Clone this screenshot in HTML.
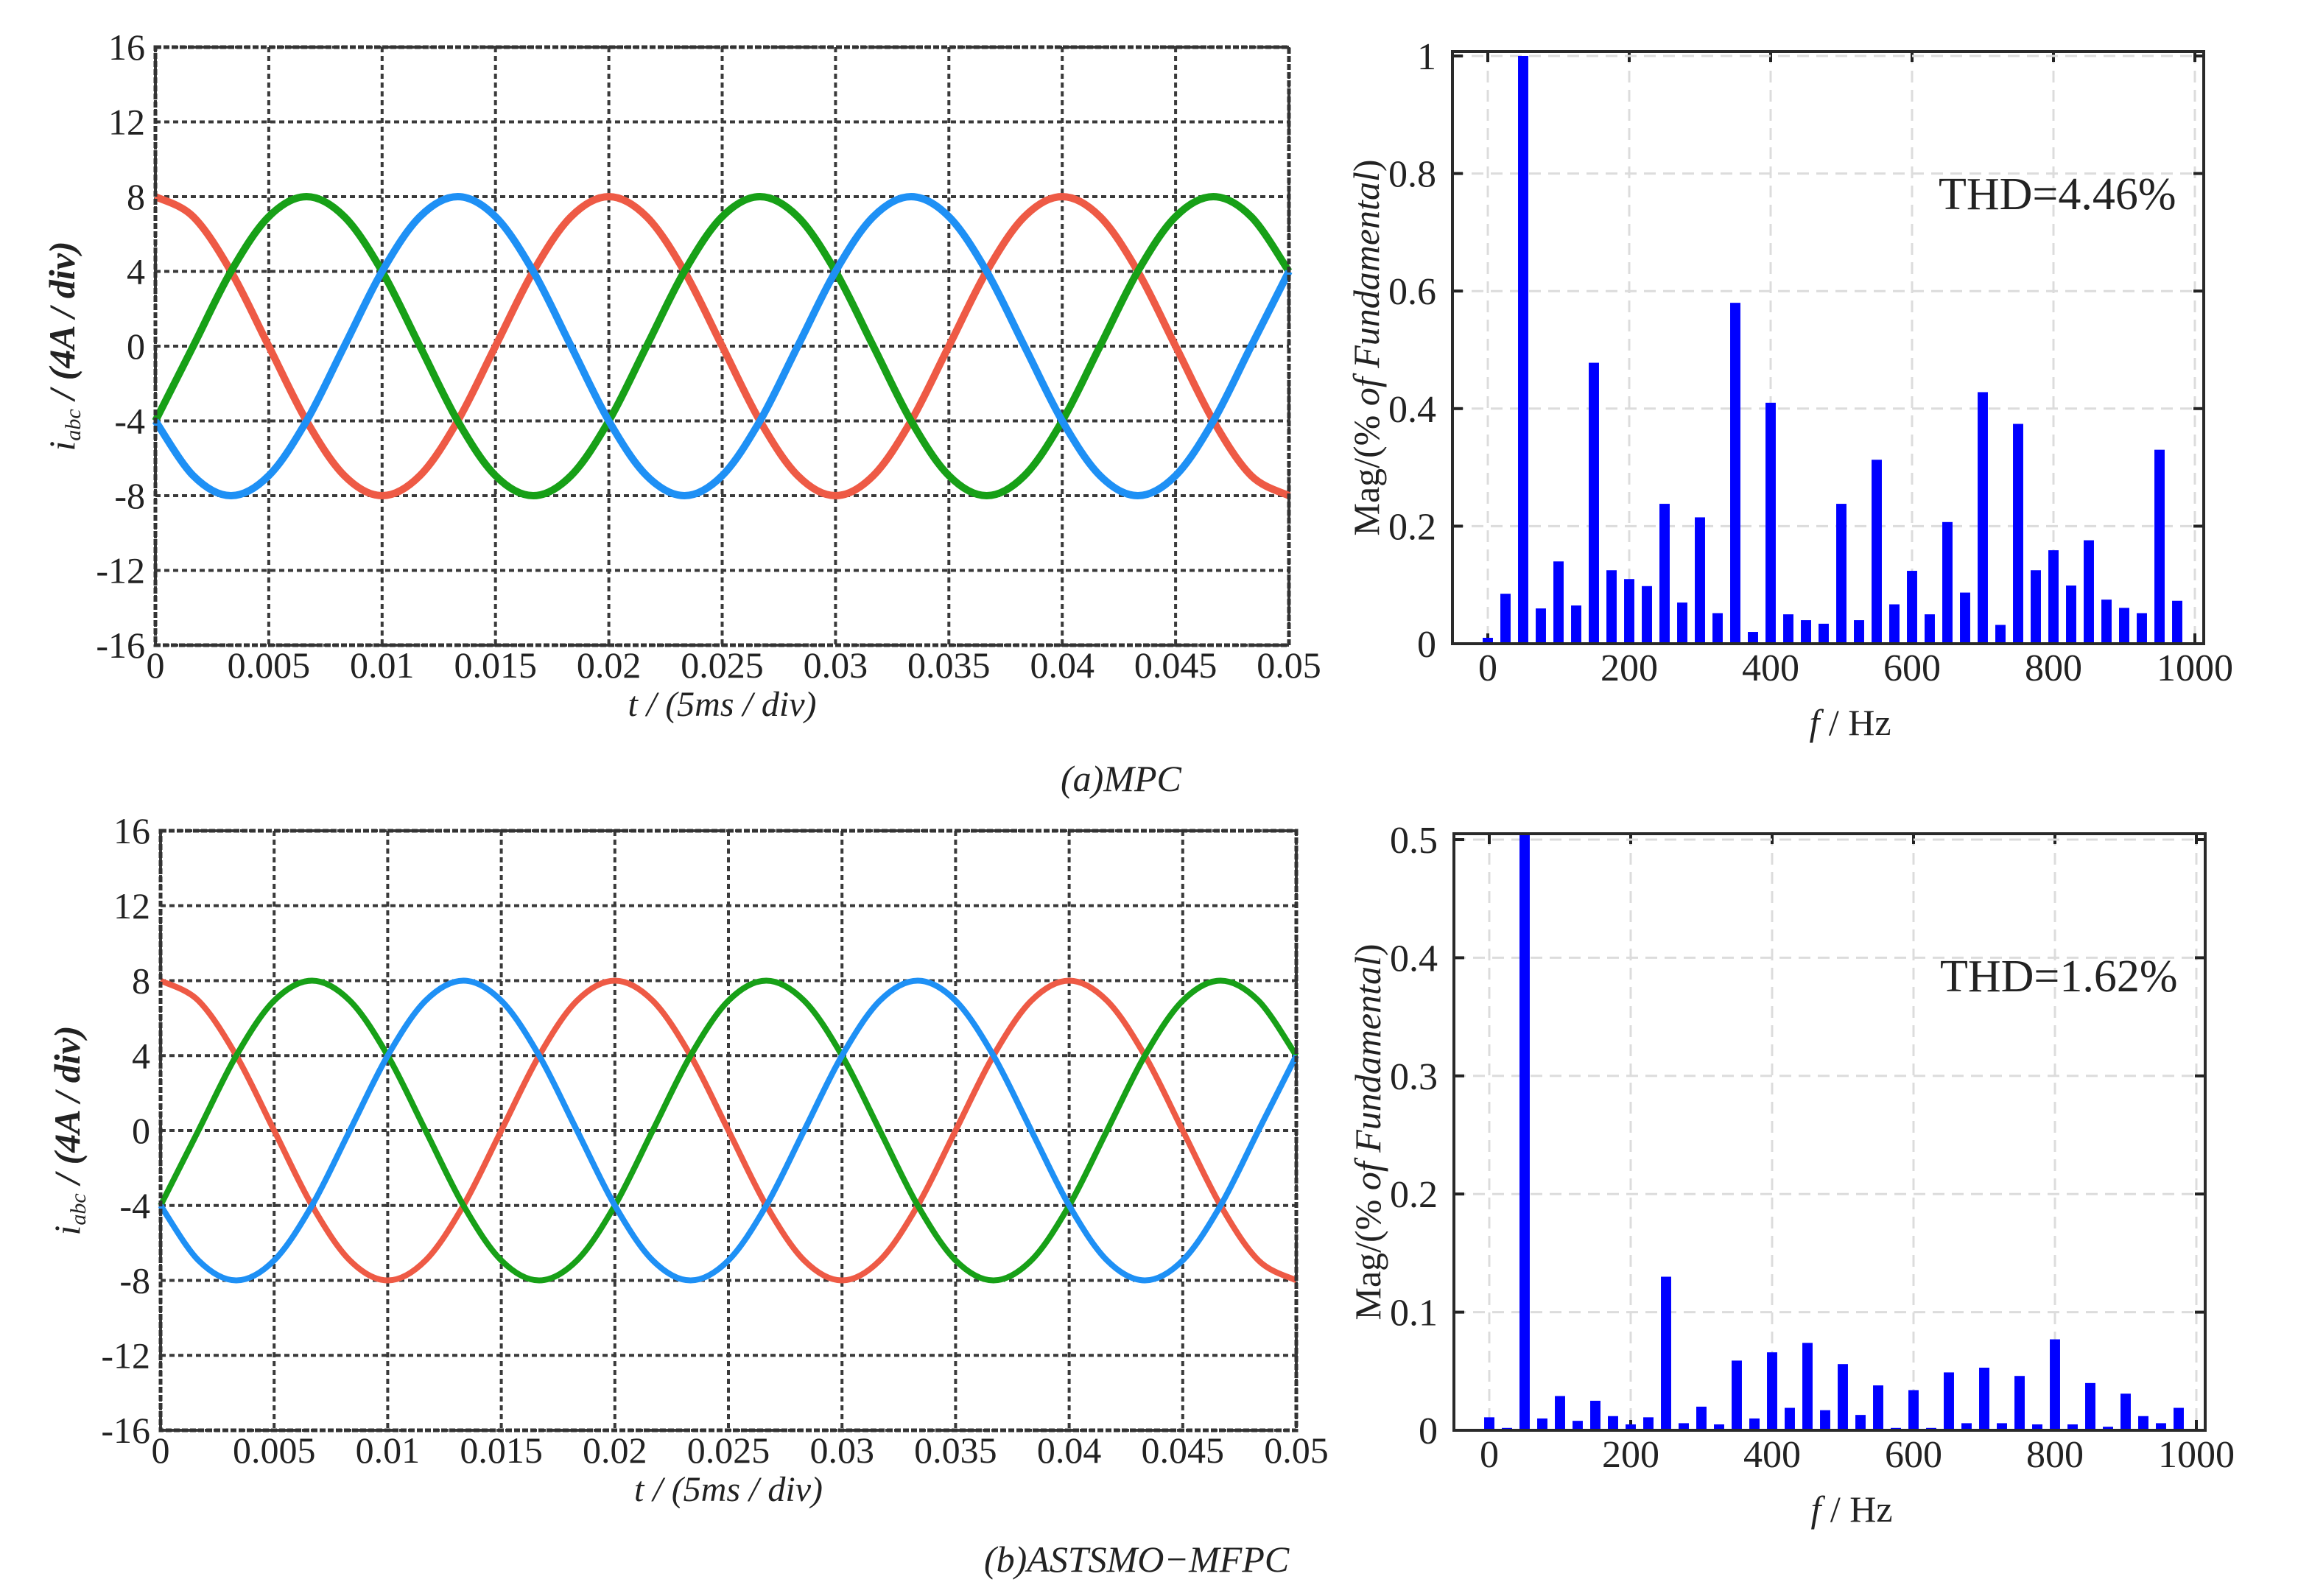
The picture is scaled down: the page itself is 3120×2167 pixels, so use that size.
<!DOCTYPE html>
<html><head><meta charset="utf-8">
<style>
html,body{margin:0;padding:0;background:#fff;}
svg{display:block;}
text{font-family:"Liberation Serif",serif;fill:#222;}
</style></head>
<body>
<svg id="fig" width="3120" height="2167" viewBox="0 0 3120 2167" xmlns="http://www.w3.org/2000/svg"></svg>
<script>
// ---- waveform data (sampled every 1/600 s, 0..0.05 s) ----
const waveT0 = 0, waveT1 = 0.05;
const phaseA = [8,6.93,4,0,-4,-6.93,-8,-6.93,-4,0,4,6.93,8,6.93,4,0,-4,-6.93,-8,-6.93,-4,0,4,6.93,8,6.93,4,0,-4,-6.93,-8];
const phaseB = [-4,0,4,6.93,8,6.93,4,0,-4,-6.93,-8,-6.93,-4,0,4,6.93,8,6.93,4,0,-4,-6.93,-8,-6.93,-4,0,4,6.93,8,6.93,4];
const phaseC = [-4,-6.93,-8,-6.93,-4,0,4,6.93,8,6.93,4,0,-4,-6.93,-8,-6.93,-4,0,4,6.93,8,6.93,4,0,-4,-6.93,-8,-6.93,-4,0,4];
const waveYTicks = [16,12,8,4,0,-4,-8,-12,-16];
const waveXTicks = ["0","0.005","0.01","0.015","0.02","0.025","0.03","0.035","0.04","0.045","0.05"];
// ---- FFT data ----
const freqs = [0,25,50,75,100,125,150,175,200,225,250,275,300,325,350,375,400,425,450,475,500,525,550,575,600,625,650,675,700,725,750,775,800,825,850,875,900,925,950,975];
const magMPC = [0.01,0.085,1.0,0.06,0.14,0.065,0.478,0.125,0.11,0.098,0.238,0.07,0.215,0.052,0.58,0.02,0.41,0.05,0.04,0.034,0.238,0.04,0.313,0.067,0.124,0.05,0.207,0.087,0.428,0.032,0.374,0.125,0.159,0.099,0.176,0.075,0.061,0.052,0.33,0.073];
const magProp = [0.011,0.002,1.0,0.01,0.029,0.008,0.025,0.012,0.005,0.011,0.13,0.006,0.02,0.005,0.059,0.01,0.066,0.019,0.074,0.017,0.056,0.013,0.038,0.002,0.034,0.002,0.049,0.006,0.053,0.006,0.046,0.005,0.077,0.005,0.04,0.003,0.031,0.012,0.006,0.019];
const fftXTicks = [0,200,400,600,800,1000];
const fftYTicksA = ["0","0.2","0.4","0.6","0.8","1"];
const fftYValsA = [0,0.2,0.4,0.6,0.8,1];
const fftYTicksB = ["0","0.1","0.2","0.3","0.4","0.5"];
const fftYValsB = [0,0.1,0.2,0.3,0.4,0.5];

const NS="http://www.w3.org/2000/svg";
const svg=document.getElementById('fig');
function mk(tag,attrs,parent){const e=document.createElementNS(NS,tag);for(const k in attrs)e.setAttribute(k,attrs[k]);(parent||svg).appendChild(e);return e;}

function smoothPath(pts){
  let d="M"+pts[0][0]+","+pts[0][1];
  for(let i=0;i<pts.length-1;i++){
    const p0=pts[Math.max(0,i-1)],p1=pts[i],p2=pts[i+1],p3=pts[Math.min(pts.length-1,i+2)];
    const c1x=p1[0]+(p2[0]-p0[0])/6,c1y=p1[1]+(p2[1]-p0[1])/6;
    const c2x=p2[0]-(p3[0]-p1[0])/6,c2y=p2[1]-(p3[1]-p1[1])/6;
    d+=" C"+c1x.toFixed(1)+","+c1y.toFixed(1)+" "+c2x.toFixed(1)+","+c2y.toFixed(1)+" "+p2[0].toFixed(1)+","+p2[1].toFixed(1);
  }
  return d;
}

function wavePlot(L,T,R,B,sw,tag){
  const g=mk('g',{});
  
  
  const xs=t=>L+(t-waveT0)/(waveT1-waveT0)*(R-L);
  const ys=v=>T+(16-v)/32*(B-T);
  waveXTicks.forEach((lab,i)=>{
    const x=xs(parseFloat(lab));
    const l=mk('line',{x1:x,y1:T,x2:x,y2:B,stroke:'#3a3a3a','stroke-width':4,'stroke-dasharray':'7,5'},g);
    
    
    const t=mk('text',{x:x,y:B+44,'font-size':50,'text-anchor':'middle'},g);
    t.textContent=lab;
    
    
  });
  waveYTicks.forEach(v=>{
    const y=ys(v);
    const l=mk('line',{x1:L,y1:y,x2:R,y2:y,stroke:'#3a3a3a','stroke-width':4,'stroke-dasharray':'7,5'},g);
    
    
    const t=mk('text',{x:L-14,y:y+17,'font-size':50,'text-anchor':'end'},g);
    t.textContent=String(v);
    
    
  });
  const series=[[phaseA,'#EE5A45','phase-a'],[phaseB,'#17A017','phase-b'],[phaseC,'#1E90F5','phase-c']];
  series.forEach(([arr,col,nm])=>{
    const n=arr.length;
    const pts=arr.map((v,i)=>[xs(waveT0+i*(waveT1-waveT0)/(n-1)),ys(v)]);
    const p=mk('path',{d:smoothPath(pts),fill:'none',stroke:col,'stroke-width':sw,'stroke-linejoin':'round'},g);
    
    
  });
  const fr=mk('rect',{x:L,y:T,width:R-L,height:B-T,fill:'none',stroke:'#333','stroke-width':5,'stroke-dasharray':'8,3'},g);
  
  
  const xt=mk('text',{x:(L+R)/2,y:B+96,'font-size':48,'text-anchor':'middle','font-style':'italic'},g);
  xt.textContent='t / (5ms / div)';
  
  
  const cy=(T+B)/2;
  const yt=mk('text',{x:0,y:0,'font-size':50,'text-anchor':'middle','font-style':'italic',transform:'translate('+(L-110)+','+cy+') rotate(-90)'},g);
  yt.innerHTML='i<tspan font-size="30" dy="8">abc</tspan><tspan dy="-8" font-weight="bold"> / (4A / div)</tspan>';
  
  
}

function fftPlot(L,T,R,B,mags,yMax,yVals,yLabs,thd,tag){
  const g=mk('g',{});
  
  
  const xMin=-50,xMax=1012.5;
  const xs=f=>L+(f-xMin)/(xMax-xMin)*(R-L);
  const ys=v=>B-v/yMax*(B-T);
  fftXTicks.forEach(f=>{
    const x=xs(f);
    const l=mk('line',{x1:x,y1:T,x2:x,y2:B,stroke:'#dcdcdc','stroke-width':3,'stroke-dasharray':'16,10'},g);
    
    
    mk('line',{x1:x,y1:B,x2:x,y2:B-14,stroke:'#222','stroke-width':4},g);
    mk('line',{x1:x,y1:T,x2:x,y2:T+14,stroke:'#222','stroke-width':4},g);
    const t=mk('text',{x:x,y:B+50,'font-size':52,'text-anchor':'middle'},g);
    t.textContent=String(f);
    
    
  });
  yVals.forEach((v,i)=>{
    const y=ys(v);
    if(v>0){
      const l=mk('line',{x1:L,y1:y,x2:R,y2:y,stroke:'#dcdcdc','stroke-width':3,'stroke-dasharray':'16,10'},g);
      
      
    }
    mk('line',{x1:L,y1:y,x2:L+14,y2:y,stroke:'#222','stroke-width':4},g);
    mk('line',{x1:R,y1:y,x2:R-14,y2:y,stroke:'#222','stroke-width':4},g);
    const t=mk('text',{x:L-22,y:y+18,'font-size':52,'text-anchor':'end'},g);
    t.textContent=yLabs[i];
    
    
  });
  const bw=14.5/(xMax-xMin)*(R-L);
  freqs.forEach((f,i)=>{
    const v=Math.min(mags[i],yMax);
    const y=ys(v);
    const r=mk('rect',{x:xs(f)-bw/2,y:y,width:bw,height:B-y,fill:'#0000FF'},g);
    
    
  });
  const fr=mk('rect',{x:L,y:T,width:R-L,height:B-T,fill:'none',stroke:'#2a2a2a','stroke-width':4},g);
  
  
  const th=mk('text',{x:L+660,y:T+214,'font-size':62},g);
  th.textContent=thd;
  
  
  const xt=mk('text',{x:(L+R)/2+30,y:B+124,'font-size':50,'text-anchor':'middle'},g);
  xt.innerHTML='<tspan font-style="italic">f</tspan> / Hz';
  
  
  const yt=mk('text',{x:0,y:0,'font-size':50,'text-anchor':'middle',transform:'translate('+(L-100)+','+((T+B)/2)+') rotate(-90)'},g);
  yt.innerHTML='Mag/(% <tspan font-style="italic">of  Fundamental</tspan>)';
  
  
}

wavePlot(211,64,1750,876,10,'mpc');
wavePlot(218,1128,1760,1942,8,'proposed');
fftPlot(1972,70,2992,874,magMPC,1.0075,fftYValsA,fftYTicksA,'THD=4.46%','mpc');
fftPlot(1974,1132,2994,1942,magProp,0.505,fftYValsB,fftYTicksB,'THD=1.62%','proposed');

const c1=mk('text',{x:1440,y:1074,'font-size':50,'font-style':'italic'});
c1.textContent='(a)MPC';


const c2=mk('text',{x:1336,y:2134,'font-size':50,'font-style':'italic'});
c2.textContent='(b)ASTSMO\u2212MFPC';


</script>
</body></html>
